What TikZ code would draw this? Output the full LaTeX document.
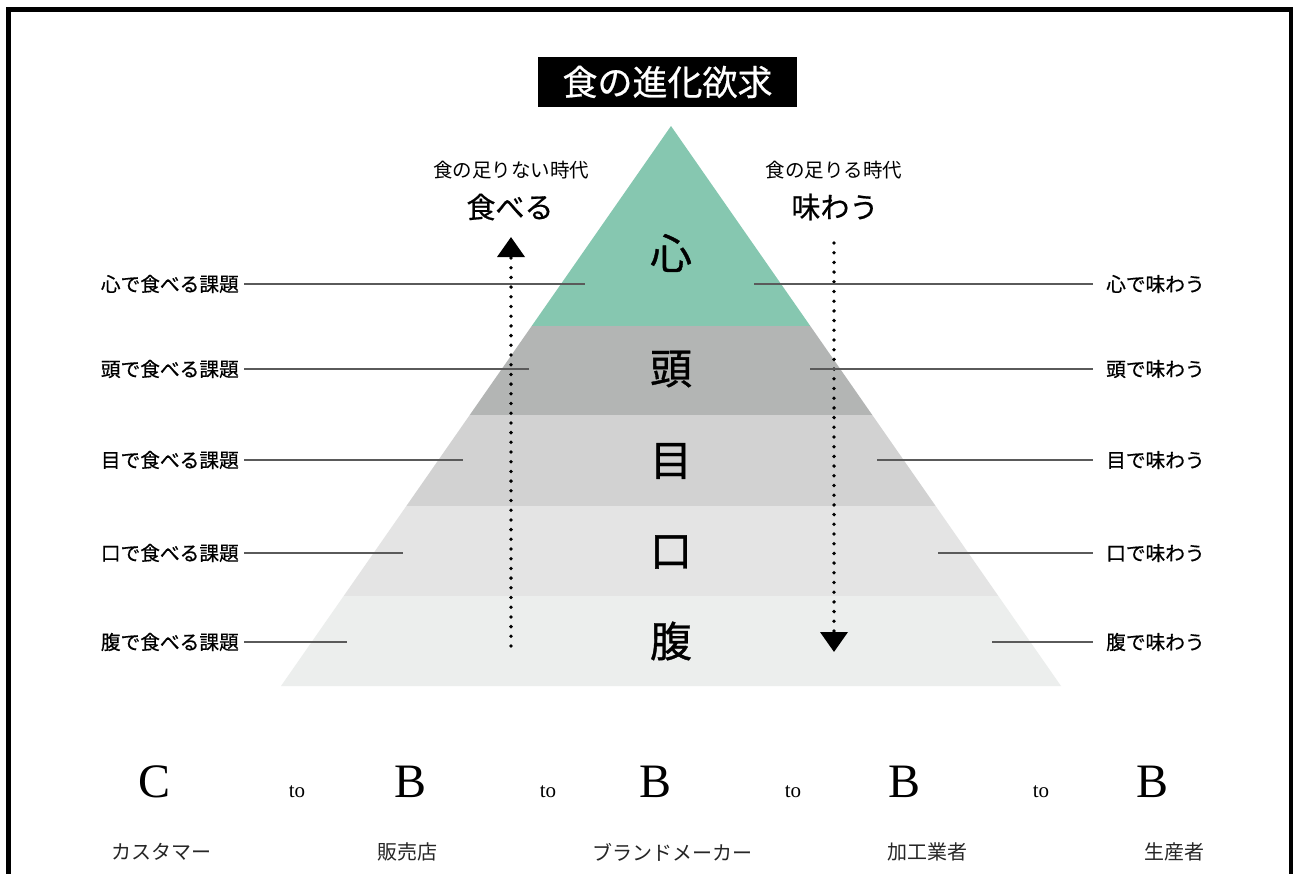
\documentclass[tikz,border=0pt]{standalone}
\usepackage{fontspec}
\usetikzlibrary{arrows.meta}
\newfontfamily\jp{Noto Sans CJK JP}
\newfontfamily\jpb{Noto Sans CJK JP}[FakeBold=0.6]
\newfontfamily\jpm{Noto Sans CJK JP}[FakeBold=0.8]
\setmainfont{Liberation Serif}
\definecolor{cgreen}{HTML}{86C7B0}
\definecolor{cband2}{HTML}{B3B5B4}
\definecolor{cband3}{HTML}{D2D2D2}
\definecolor{cband4}{HTML}{E4E4E4}
\definecolor{cband5}{HTML}{ECEEED}
\definecolor{cline}{HTML}{5A5A5A}
\tikzset{
  leftlab/.style={anchor=east,inner xsep=5pt,inner ysep=0pt,font=\jpb\fontsize{19.7}{20}\selectfont},
  rightlab/.style={anchor=west,inner xsep=13pt,inner ysep=0pt,font=\jpb\fontsize{19.7}{20}\selectfont},
  conn/.style={draw=cline,line width=1.6pt},
  level/.style={font=\jpm\fontsize{42}{44}\selectfont,inner sep=0pt},
  bigletter/.style={anchor=base,font=\fontsize{48}{50}\selectfont,inner sep=0pt},
  tolabel/.style={anchor=base,font=\fontsize{21}{22}\selectfont,inner sep=0pt},
  rolelabel/.style={font=\jp\fontsize{20}{22}\selectfont,text=black!85,inner sep=0pt},
  dotarrow/.style={line width=3.8pt,line cap=round,dash pattern=on 0pt off 9.7pt,-{Triangle[width=27pt,length=20pt]}},
}
\begin{document}
\begin{tikzpicture}[x=1pt,y=-1pt]
\useasboundingbox (0,0) rectangle (1293,873);
\fill[white] (0,0) rectangle (1293,873);
% frame
\draw[line width=5pt] (8.5,880) -- (8.5,9) -- (1291,9) -- (1291,880);
% title
\node[fill=black,text=white,minimum width=259pt,minimum height=50pt,inner sep=0pt,font=\jpb\fontsize{35}{36}\selectfont] (title) at (667.5,82) {食の進化欲求};
% pyramid
\coordinate (apex) at (671,126);
\coordinate (bl) at (281,686);
\coordinate (br) at (1061,686);
\begin{scope}
\clip (apex) -- (bl) -- (br) -- cycle;
\fill[cgreen] (200,100) rectangle (1100,326);
\fill[cband2] (200,326) rectangle (1100,415);
\fill[cband3] (200,415) rectangle (1100,506);
\fill[cband4] (200,506) rectangle (1100,596);
\fill[cband5] (200,596) rectangle (1100,690);
\end{scope}
% level characters
\node[level] (kokoro) at (671,253) {心};
\node[level] (atama) at (671,369) {頭};
\node[level] (me) at (671,461) {目};
\node[level] (kuchi) at (671,552) {口};
\node[level] (hara) at (671,641) {腹};
% side texts
\node[font=\jp\fontsize{19.5}{20}\selectfont,inner sep=0pt] (lacksub) at (511,170) {食の足りない時代};
\node[font=\jpb\fontsize{29}{30}\selectfont,inner sep=0pt] (lack) at (510,207) {食べる};
\node[font=\jp\fontsize{19.5}{20}\selectfont,inner sep=0pt] (enoughsub) at (834,170) {食の足りる時代};
\node[font=\jpb\fontsize{29}{30}\selectfont,inner sep=0pt] (enough) at (835,207) {味わう};
% dotted arrows
\coordinate (upstart) at (511,646);
\coordinate (uptip) at (511,237);
\coordinate (downstart) at (834,243);
\coordinate (downtip) at (834,652);
\draw[dotarrow] (upstart) -- (uptip);
\draw[dotarrow] (downstart) -- (downtip);
% left labels
\node[leftlab] (l1) at (244,284) {心で食べる課題};
\node[leftlab] (l2) at (244,369) {頭で食べる課題};
\node[leftlab] (l3) at (244,460) {目で食べる課題};
\node[leftlab] (l4) at (244,553) {口で食べる課題};
\node[leftlab] (l5) at (244,642) {腹で食べる課題};
\coordinate (le1) at (585,284);
\coordinate (le2) at (529,369);
\coordinate (le3) at (463,460);
\coordinate (le4) at (403,553);
\coordinate (le5) at (347,642);
\draw[conn] (l1.east) -- (le1);
\draw[conn] (l2.east) -- (le2);
\draw[conn] (l3.east) -- (le3);
\draw[conn] (l4.east) -- (le4);
\draw[conn] (l5.east) -- (le5);
% right labels
\node[rightlab] (r1) at (1093,284) {心で味わう};
\node[rightlab] (r2) at (1093,369) {頭で味わう};
\node[rightlab] (r3) at (1093,460) {目で味わう};
\node[rightlab] (r4) at (1093,553) {口で味わう};
\node[rightlab] (r5) at (1093,642) {腹で味わう};
\coordinate (re1) at (754,284);
\coordinate (re2) at (810,369);
\coordinate (re3) at (877,460);
\coordinate (re4) at (938,553);
\coordinate (re5) at (992,642);
\draw[conn] (re1) -- (r1.west);
\draw[conn] (re2) -- (r2.west);
\draw[conn] (re3) -- (r3.west);
\draw[conn] (re4) -- (r4.west);
\draw[conn] (re5) -- (r5.west);
% bottom chain
\node[bigletter] (c1) at (155,797) {C};
\node[tolabel] (t1) at (297,797) {to};
\node[bigletter] (b1) at (411,797) {B};
\node[tolabel] (t2) at (548,797) {to};
\node[bigletter] (b2) at (656,797) {B};
\node[tolabel] (t3) at (793,797) {to};
\node[bigletter] (b3) at (904,797) {B};
\node[tolabel] (t4) at (1041,797) {to};
\node[bigletter] (b4) at (1152,797) {B};
\node[rolelabel] (n1) at (161,852) {カスタマー};
\node[rolelabel] (n2) at (407,852) {販売店};
\node[rolelabel] (n3) at (672,852) {ブランドメーカー};
\node[rolelabel] (n4) at (927,852) {加工業者};
\node[rolelabel] (n5) at (1174,852) {生産者};
\end{tikzpicture}
\end{document}
